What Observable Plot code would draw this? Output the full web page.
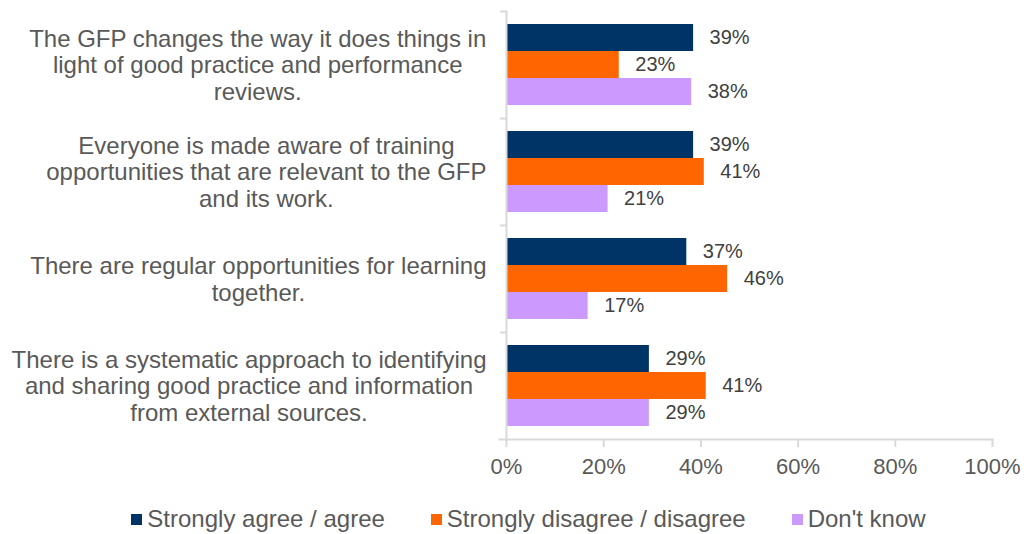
<!DOCTYPE html>
<html><head><meta charset="utf-8">
<script src="https://cdn.jsdelivr.net/npm/d3@7"></script>
<script src="https://cdn.jsdelivr.net/npm/@observablehq/plot@0.6"></script>
<style>
body{margin:0;background:#fff;font-family:"Liberation Sans",Arial,sans-serif;}
#legend{display:flex;justify-content:center;align-items:flex-start;height:44px;padding-left:22px;padding-top:14px;box-sizing:border-box;font-size:24px;line-height:30px;color:#595959;}
.item{display:flex;align-items:center;margin:0 23px;white-space:nowrap;}
.sw{width:11px;height:11px;margin-right:5px;flex:none;}
</style></head><body>
<div id="chart"></div><div id="legend"></div>
<script>
const categories = [
  "The GFP changes the way it does things in\nlight of good practice and performance\nreviews.",
  "Everyone is made aware of training\nopportunities that are relevant to the GFP\nand its work.",
  "There are regular opportunities for learning\ntogether.",
  "There is a systematic approach to identifying\nand sharing good practice and information\nfrom external sources."
];
const series = ["Strongly agree / agree", "Strongly disagree / disagree", "Don't know"];
const agree = [38.5, 38.5, 37.1, 29.4];
const disagree = [23.2, 40.7, 45.5, 41.1];
const dontKnow = [38.1, 20.9, 16.8, 29.4];
const colors = ["#003366", "#FF6600", "#CC99FF"];
const xTicks = [0, 20, 40, 60, 80, 100];

const seriesValues = [agree, disagree, dontKnow];
const rows = [];
categories.forEach((c, i) => series.forEach((s, j) => rows.push({category: c, series: s, value: seriesValues[j][i]})));

const W = 1035, H = 490, mt = 11, mb = 51, ml = 506, mr = 43;
const step = (H - mt - mb) / categories.length;
const grey = "#d9d9d9";
const labelFont = 24, labelGap = 20;

// measure widest line of each category label: block right-aligned, lines centred in it
const ctx = document.createElement("canvas").getContext("2d");
ctx.font = `${labelFont}px "Liberation Sans", Arial, sans-serif`;
const labelAxes = categories.map(c => {
  const w = Math.max(...c.split("\n").map(l => ctx.measureText(l).width));
  return Plot.axisFy({anchor: "left", ticks: [c], tickSize: 0, tickPadding: labelGap + w / 2, textAnchor: "middle", fill: "#595959", fontSize: labelFont, lineHeight: 1.1, label: null});
});

const chart = Plot.plot({
  width: W, height: H, marginTop: mt, marginBottom: mb, marginLeft: ml, marginRight: mr,
  style: {fontFamily: '"Liberation Sans", Arial, sans-serif', background: "white"},
  x: {domain: [0, 100], axis: null},
  y: {domain: series, axis: null, paddingInner: 0, paddingOuter: 0.48},
  fy: {domain: categories, axis: null, padding: 0},
  color: {domain: series, range: colors},
  marks: [
    Plot.barX(rows, {x: "value", y: "series", fy: "category", fill: "series"}),
    Plot.text(rows, {x: "value", y: "series", fy: "category", text: d => Math.round(d.value) + "%", textAnchor: "start", dx: 16, fill: "#404040", fontSize: 20}),
    Plot.frame({anchor: "left", facet: "super", stroke: grey, strokeWidth: 2}),
    Plot.frame({anchor: "bottom", facet: "super", stroke: grey, strokeWidth: 2, insetLeft: -7}),
    Plot.axisFy({anchor: "left", tickSize: 6, fill: "none", stroke: grey, strokeWidth: 2, dy: -step / 2, label: null}),
    ...labelAxes,
    Plot.axisX({ticks: xTicks, tickFormat: d => d + "%", tickSize: 8, tickPadding: 11, stroke: grey, strokeWidth: 2, fill: "#595959", fontSize: 22, label: null})
  ]
});
document.getElementById("chart").appendChild(chart);

const legend = document.getElementById("legend");
series.forEach((s, i) => {
  const item = document.createElement("div");
  item.className = "item";
  const sw = document.createElement("span");
  sw.className = "sw";
  sw.style.background = colors[i];
  const t = document.createElement("span");
  t.textContent = s;
  item.appendChild(sw); item.appendChild(t);
  legend.appendChild(item);
});
</script>
</body></html>
